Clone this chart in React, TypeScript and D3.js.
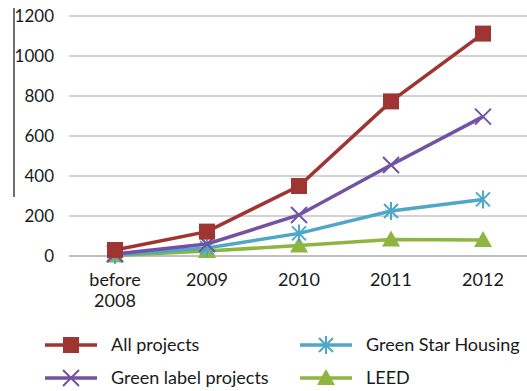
import React from "react";
import * as d3 from "d3";

const categories = ["before 2008", "2009", "2010", "2011", "2012"];
const allProjects = [30, 122, 350, 773, 1112];
const greenLabel = [10, 60, 205, 455, 697];
const greenStar = [5, 40, 113, 225, 283];
const leed = [2, 25, 52, 82, 80];
const yTicks = [0, 200, 400, 600, 800, 1000, 1200];

const series = [
  { name: "All projects", values: allProjects, color: "#9E3533", marker: "square" },
  { name: "Green label projects", values: greenLabel, color: "#7352A3", marker: "x" },
  { name: "Green Star Housing", values: greenStar, color: "#4FA7C7", marker: "star" },
  { name: "LEED", values: leed, color: "#8DB53F", marker: "triangle" },
];

const W = 527, H = 391;
const FONT = "Lato, 'Open Sans', sans-serif";

function Marker({ type, x, y, color }: { type: string; x: number; y: number; color: string }) {
  if (type === "square") return <rect x={x - 8} y={y - 8} width={16} height={16} fill={color} />;
  if (type === "x")
    return (
      <path d={`M${x - 8},${y - 8}L${x + 8},${y + 8}M${x - 8},${y + 8}L${x + 8},${y - 8}`} stroke={color} strokeWidth={2} />
    );
  if (type === "star")
    return (
      <path
        d={`M${x - 7},${y - 7}L${x + 7},${y + 7}M${x - 7},${y + 7}L${x + 7},${y - 7}M${x},${y - 9}L${x},${y + 9}`}
        stroke={color}
        strokeWidth={2}
      />
    );
  return <path d={`M${x},${y - 9}L${x + 9},${y + 7}L${x - 9},${y + 7}Z`} fill={color} />;
}

export default function App() {
  const x = d3.scaleBand().domain(categories).range([69, 529]);
  const y = d3.scaleLinear().domain([0, 1200]).range([256, 16]);
  const cx = (c: string) => (x(c) as number) + x.bandwidth() / 2;
  const line = d3
    .line<number>()
    .x((_, i) => cx(categories[i]))
    .y((d) => y(d));

  const legendPos = [
    { lx: 45, ly: 345 },
    { lx: 45, ly: 378 },
    { lx: 300, ly: 345 },
    { lx: 300, ly: 378 },
  ];

  return (
    <svg width={W} height={H} style={{ position: "absolute", left: 0, top: 0, background: "#fff" }}>
      <rect width={W} height={H} fill="#fff" />
      {yTicks.map((t) => (
        <g key={t}>
          <line x1={69} x2={529} y1={y(t)} y2={y(t)} stroke={t === 0 ? "#808080" : "#a6a6a6"} strokeWidth={1.2} />
          <text x={54} y={y(t)} dy="0.35em" textAnchor="end" fontFamily={FONT} fontSize={17} fill="#1a1a1a">
            {t}
          </text>
        </g>
      ))}
      <line x1={14} x2={14} y1={8} y2={197} stroke="#222" strokeWidth={1.3} />
      {categories.map((c) => {
        const parts = c === "before 2008" ? ["before", "2008"] : [c];
        return (
          <text key={c} x={cx(c)} y={286} textAnchor="middle" fontFamily={FONT} fontSize={18} fill="#1a1a1a">
            {parts.map((p, i) => (
              <tspan key={i} x={cx(c)} dy={i === 0 ? 0 : 21}>
                {p}
              </tspan>
            ))}
          </text>
        );
      })}
      {[...series].reverse().map((s) => (
        <g key={s.name}>
          <path d={line(s.values) || ""} fill="none" stroke={s.color} strokeWidth={3.5} />
          {s.values.map((v, i) => (
            <Marker key={i} type={s.marker} x={cx(categories[i])} y={y(v)} color={s.color} />
          ))}
        </g>
      ))}
      {series.map((s, i) => {
        const { lx, ly } = legendPos[i];
        return (
          <g key={s.name}>
            <line x1={lx} x2={lx + 52} y1={ly} y2={ly} stroke={s.color} strokeWidth={3.5} />
            <Marker type={s.marker} x={lx + 26} y={ly} color={s.color} />
            <text x={lx + 66} y={ly} dy="0.35em" fontFamily={FONT} fontSize={18} fill="#1a1a1a">
              {s.name}
            </text>
          </g>
        );
      })}
    </svg>
  );
}
